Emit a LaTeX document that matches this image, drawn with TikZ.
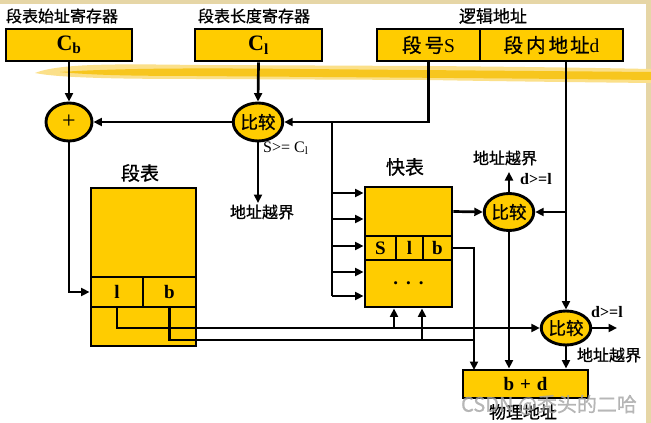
\documentclass[tikz,border=0pt]{standalone}
\usepackage{fontspec}
\setmainfont{Liberation Serif}
\newfontfamily\cjk[FakeBold=0.8]{Noto Sans CJK SC}
\usetikzlibrary{shapes.geometric,arrows.meta,calc}
\definecolor{boxy}{HTML}{FFCC00}
\definecolor{beige}{HTML}{E6D6A6}
\definecolor{brushA}{HTML}{FBE08A}
\definecolor{brushB}{HTML}{F7C61E}
\begin{document}
\begin{tikzpicture}[x=1pt,y=-1pt,
  box/.style={draw=black, line width=2.9pt, fill=boxy, inner sep=0pt, rectangle},
  ell/.style={draw=black, line width=2.9pt, fill=boxy, ellipse, inner sep=0pt},
  conn/.style={line width=2.7pt, draw=black},
  arr/.style={conn, -{Triangle[length=8.5pt,width=8pt]}},
  lab/.style={font=\cjk\fontsize{16}{16}\selectfont, inner sep=0pt},
  big/.style={font=\cjk\fontsize{19}{19}\selectfont, inner sep=0pt},
  cmp/.style={ell, font=\cjk\fontsize{17.5}{17.5}\selectfont},
  lat/.style={font=\fontsize{19}{19}\selectfont\bfseries},
  cond/.style={font=\fontsize{16}{16}\selectfont\bfseries, inner sep=0pt},
]
% background
\fill[white] (0,0) rectangle (651,423);
\fill[beige] (0,0) rectangle (651,4);
\fill[beige] (646,0) rectangle (651,423);
\useasboundingbox (0,0) rectangle (651,423);
% brush stroke
\fill[brushA] (35,73) .. controls (60,63) and (120,64) .. (200,65) -- (430,66) .. controls (540,67) and (600,68) .. (651,69) -- (651,83) .. controls (560,82) and (480,81) .. (430,80) -- (200,79) .. controls (120,79) and (60,78) .. (35,73) -- cycle;
\fill[brushB] (60,72) .. controls (120,68) and (200,68) .. (300,69) -- (651,72) -- (651,80) .. controls (500,78) and (300,77) .. (200,76) .. controls (130,76) and (90,75) .. (60,72) -- cycle;

% top labels
\node[lab] (lcb) at (62,16) {段表始址寄存器};
\node[lab] (lcl) at (254,16) {段表长度寄存器};
\node[lab, font=\cjk\fontsize{17}{17}\selectfont] (lla) at (493,16) {逻辑地址};

% registers
\node[box, minimum width=126pt, minimum height=32pt] (cb) at (69,45) {\fontsize{22}{22}\selectfont\bfseries C\textsubscript{b}};
\node[box, minimum width=127pt, minimum height=32pt] (cl) at (258.5,45) {\fontsize{22}{22}\selectfont\bfseries C\textsubscript{l}};
\node[box, minimum width=103pt, minimum height=32pt] (segs) at (428.5,45) {\fontsize{19.5}{19.5}\selectfont{\cjk 段\hspace{3pt}号}S};
\node[box, minimum width=143pt, minimum height=32pt] (segd) at (551.5,45) {\fontsize{19.5}{19.5}\selectfont{\cjk 段\hspace{3pt}内\hspace{3pt}地\hspace{2pt}址}d};

% adders / comparators
\node[ell, minimum width=46pt, minimum height=38pt, font=\fontsize{24}{24}\selectfont] (plus) at (69,122) {+};
\node[cmp, minimum width=47pt, minimum height=38pt] (cmp1) at (258,122) {比较};
\node[cmp, minimum width=47pt, minimum height=37pt] (cmp2) at (509,212) {比较};
\node[cmp, minimum width=46pt, minimum height=34pt] (cmp3) at (566,328) {比较};

% segment table
\node[big] (lst) at (140,173) {段表};
\node[box, minimum width=105pt, minimum height=89pt] (sttop) at (143.5,232.5) {};
\node[box, minimum width=52pt, minimum height=30pt, lat] (stl) at (117,292) {l};
\node[box, minimum width=53pt, minimum height=30pt, lat] (stb) at (169.5,292) {b};
\node[box, minimum width=105pt, minimum height=39pt] (stbot) at (143.5,326.5) {};

% quick table
\node[big] (lqt) at (405,167) {快表};
\node[box, minimum width=87pt, minimum height=49pt] (qttop) at (408.5,211.5) {};
\node[box, minimum width=31pt, minimum height=24pt, lat] (qs) at (380.5,248) {S};
\node[box, minimum width=27pt, minimum height=24pt, lat] (ql) at (409.5,248) {l};
\node[box, minimum width=29pt, minimum height=24pt, lat] (qb) at (437.5,248) {b};
\node[box, minimum width=87pt, minimum height=47pt, lat] (qdots) at (408.5,283.5) {.\hspace{8pt}.\hspace{8pt}.};

% physical address
\node[box, minimum width=125pt, minimum height=28pt, lat] (bd) at (525.5,384) {b\hspace{6pt}+\hspace{6pt}d};
\node[lab, font=\cjk\fontsize{17}{17}\selectfont] (lpa) at (523,412) {物理地址};

% labels
\node[inner sep=0pt, anchor=west, font=\fontsize{16}{16}\selectfont] (lsc) at (263,148) {S>= C\textsubscript{l}};
\coordinate (o1) at (258,203);
\node[lab] (lo1) at (262,212) {地址越界};
\coordinate (o2) at (509,172);
\node[lab] (lo2) at (505,158) {地址越界};
\node[cond, anchor=west] (ld2) at (520,179) {d>=l};
\coordinate (o3) at (617,328);
\node[cond] (ld3) at (607,312) {d>=l};
\node[lab] (lo3) at (609,355) {地址越界};

% coordinates
\coordinate (j1) at (332,123);
\coordinate (f1) at (332,193);
\coordinate (f2) at (332,219);
\coordinate (f3) at (332,246);
\coordinate (f4) at (332,272);
\coordinate (f5) at (332,296);
\coordinate (bx) at (474,370);
\coordinate (bj) at (474,340);
\coordinate (u1) at (394,328);
\coordinate (u2) at (422,340);

% connectors
\draw[arr] (cb.south) -- (plus.north);
\draw[arr] (cl.south) -- (cmp1.north);
\draw[arr] (segs.south) |- (cmp1.east);
\draw[arr] (cmp1.west) -- (plus.east);
\draw[conn] (j1) -- (f5);
\draw[arr] (f1) -- (f1 -| qttop.west);
\draw[arr] (f2) -- (f2 -| qttop.west);
\draw[arr] (f3) -- (f3 -| qttop.west);
\draw[arr] (f4) -- (f4 -| qttop.west);
\draw[arr] (f5) -- (f5 -| qttop.west);
\draw[arr] (cmp1.south) -- (o1);
\draw[arr] (plus.south) |- (stl.west);
\draw[arr] (segd.south -| cmp3.north) -- (cmp3.north);
\draw[arr] (cmp3.north |- cmp2.east) -- (cmp2.east);
\draw[arr] (qttop.east) -- (cmp2.west);
\draw[arr] (cmp2.north) -- (o2);
\draw[arr] (cmp2.south) -- (cmp2.south |- bd.north);
\draw[arr] (qb.east) -| (bx);
\draw[arr] (stl.south) |- (cmp3.west);
\draw[arr] (u1) -- (u1 |- qdots.south);
\draw[conn] (stb.south) |- (bj);
\draw[arr] (u2) -- (u2 |- qdots.south);
\draw[arr] (cmp3.east) -- (o3);
\draw[arr] (cmp3.south) -- (cmp3.south |- bd.north);

% watermark
\node[font=\cjk\fontsize{20}{20}\selectfont, text=black!35, opacity=0.8, inner sep=0pt] (wm) at (549,405) {CSDN @秃头的二哈};
\end{tikzpicture}
\end{document}
